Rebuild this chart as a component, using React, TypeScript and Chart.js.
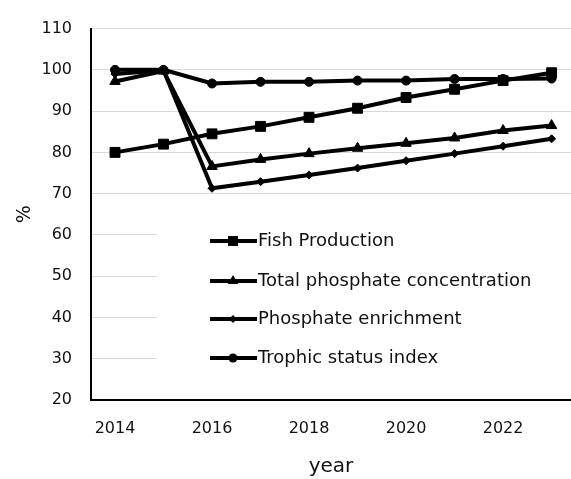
import React, { useEffect, useRef } from "react";
import { Chart, registerables } from "chart.js";

Chart.register(...registerables);

const years = [2014, 2015, 2016, 2017, 2018, 2019, 2020, 2021, 2022, 2023];
const xTickLabels = [2014, 2016, 2018, 2020, 2022];
const fishProduction = [80, 82, 84.5, 86.3, 88.5, 90.7, 93.3, 95.3, 97.4, 99.3];
const totalPhosphate = [97.2, 99.7, 76.6, 78.3, 79.7, 81, 82.2, 83.5, 85.3, 86.5];
const phosphateEnrichment = [99, 99.9, 71.3, 72.9, 74.5, 76.2, 78, 79.7, 81.5, 83.3];
const trophicStatus = [100, 100, 96.7, 97.1, 97.1, 97.4, 97.4, 97.8, 97.8, 97.9];
const seriesNames = [
  "Fish Production",
  "Total phosphate concentration",
  "Phosphate enrichment",
  "Trophic status index",
];

const FONT = "'DejaVu Sans', sans-serif";

export default function App() {
  const ref = useRef<HTMLCanvasElement | null>(null);

  useEffect(() => {
    document.body.style.margin = "0";
    const canvas = ref.current;
    if (!canvas) return;

    const styles = [
      { pointStyle: "rect", pointRadius: 7 },
      { pointStyle: "triangle", pointRadius: 6 },
      { pointStyle: "rectRot", pointRadius: 4 },
      { pointStyle: "circle", pointRadius: 4.5 },
    ];
    const values = [fishProduction, totalPhosphate, phosphateEnrichment, trophicStatus];

    function drawMarker(ctx: any, style: string, r: number, x: number, y: number) {
      ctx.beginPath();
      if (style === "rect") {
        const s = Math.SQRT1_2 * r;
        ctx.rect(x - s, y - s, 2 * s, 2 * s);
      } else if (style === "triangle") {
        ctx.moveTo(x, y - r);
        ctx.lineTo(x + r * 0.866, y + r * 0.5);
        ctx.lineTo(x - r * 0.866, y + r * 0.5);
        ctx.closePath();
      } else if (style === "rectRot") {
        ctx.moveTo(x - r, y);
        ctx.lineTo(x, y - r);
        ctx.lineTo(x + r, y);
        ctx.lineTo(x, y + r);
        ctx.closePath();
      } else {
        ctx.arc(x, y, r, 0, Math.PI * 2);
      }
      ctx.fill();
    }

    const legendPlugin = {
      id: "insideLegend",
      beforeDatasetsDraw(chart: any) {
        const ctx = chart.ctx;
        ctx.save();
        ctx.fillStyle = "#ffffff";
        ctx.fillRect(157, 210, 414, 175);
        ctx.restore();
      },
      afterDraw(chart: any) {
        const ctx = chart.ctx;
        ctx.save();
        const ys = [241, 281, 319, 358];
        seriesNames.forEach((name, i) => {
          const y = ys[i];
          ctx.strokeStyle = "#000";
          ctx.lineWidth = 4;
          ctx.beginPath();
          ctx.moveTo(210, y);
          ctx.lineTo(257, y);
          ctx.stroke();
          ctx.fillStyle = "#000";
          const st = styles[i];
          drawMarker(ctx, st.pointStyle, st.pointRadius, 233, y);
          ctx.fillStyle = "#111";
          ctx.font = `18px ${FONT}`;
          ctx.textAlign = "left";
          ctx.textBaseline = "middle";
          ctx.fillText(name, 258, y);
        });
        ctx.restore();
      },
    };

    const chart = new Chart(canvas, {
      type: "line",
      data: {
        datasets: seriesNames.map((name, i) => ({
          label: name,
          data: years.map((yr, j) => ({ x: yr, y: values[i][j] })),
          borderColor: "#000",
          backgroundColor: "#000",
          borderWidth: 4,
          pointStyle: styles[i].pointStyle as any,
          pointRadius: styles[i].pointRadius,
          pointBorderWidth: 1,
          pointBackgroundColor: "#000",
          pointBorderColor: "#000",
          tension: 0,
        })),
      },
      options: {
        responsive: false,
        animation: false,
        layout: { autoPadding: false, padding: { top: 22.5, left: 0, right: 0, bottom: 0 } },
        plugins: {
          legend: { display: false },
          tooltip: { enabled: false },
        },
        scales: {
          x: {
            type: "linear",
            min: 2013.505,
            max: 2023.4,
            afterBuildTicks: (scale: any) => {
              scale.ticks = xTickLabels.map((v) => ({ value: v }));
            },
            afterFit: (scale: any) => {
              scale.height = 79;
            },
            grid: { display: false, drawTicks: false },
            border: { display: true, color: "#000", width: 2 },
            ticks: {
              autoSkip: false,
              maxRotation: 0,
              padding: 19,
              color: "#111",
              font: { family: FONT, size: 16 },
              callback: (v: any) => String(v),
            },
            title: {
              display: true,
              text: "year",
              color: "#111",
              font: { family: FONT, size: 20 },
              padding: { top: 0, bottom: 0 },
            },
          },
          y: {
            min: 20,
            max: 110,
            afterFit: (scale: any) => {
              scale.width = 91;
            },
            grid: { color: "#d9d9d9", lineWidth: 1, drawTicks: false },
            border: { display: true, color: "#000", width: 2 },
            ticks: {
              stepSize: 10,
              padding: 19,
              color: "#111",
              font: { family: FONT, size: 16 },
            },
            title: {
              display: true,
              text: "%",
              color: "#111",
              font: { family: FONT, size: 19 },
              padding: { top: 14, bottom: 0 },
            },
          },
        },
      },
      plugins: [legendPlugin],
    });

    return () => chart.destroy();
  }, []);

  return (
    <div style={{ width: 571, height: 479, background: "#fff" }}>
      <canvas ref={ref} width={571} height={479} style={{ display: "block" }} />
    </div>
  );
}
